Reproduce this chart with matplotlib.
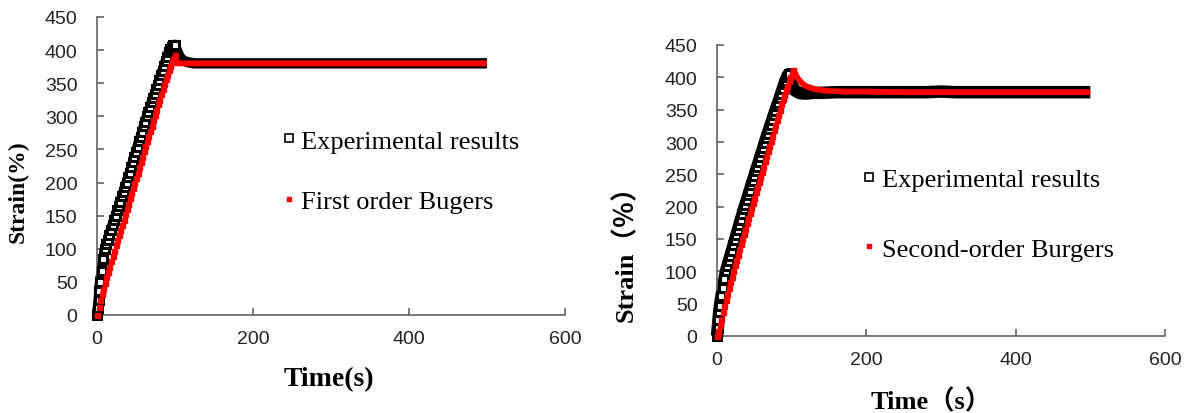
import numpy as np
import matplotlib
matplotlib.use("Agg")
import matplotlib.pyplot as plt
from matplotlib.lines import Line2D

# ---- left panel: first order Burgers ----
t_exp_l = [0, 1, 2, 3, 4, 6, 8, 10, 12, 14, 16, 18, 20, 22, 24, 26, 28, 30, 32, 34,
           36, 38, 40, 42, 44, 46, 48, 50, 52, 54, 56, 58, 60, 62, 64, 66, 68, 70,
           72, 74, 76, 78, 80, 82, 84, 86, 88, 90, 92, 94, 96, 98, 100,
           102, 104, 106, 108, 110, 113, 116, 120, 125, 130,
           140, 160, 180, 200, 220, 240, 260, 280, 300, 320, 340, 360, 380, 400,
           420, 440, 460, 480, 500]
y_exp_l = [0, 10, 22, 36, 50, 67, 84, 100, 107, 114, 121, 129, 136, 143, 150, 158, 164,
           171, 179, 186, 194, 200, 208, 215, 223, 231, 238, 246, 254, 262, 269, 277,
           285, 292, 300, 307, 314, 321, 328, 334, 341, 348, 355, 362, 369, 376, 383,
           390, 397, 402, 405, 407, 408,
           401, 395, 390, 387, 385, 383, 382, 381, 380, 380,
           380, 380, 380, 380, 380, 380, 380, 380, 380, 380, 380, 380, 380, 380,
           380, 380, 380, 380, 380]

t_mod_l = [0, 2, 4, 6, 8, 10, 12, 14, 16, 18, 20, 22, 24, 26, 28, 30, 32, 34, 36, 38,
           40, 42, 44, 46, 48, 50, 52, 54, 56, 58, 60, 62, 64, 66, 68, 70, 72, 74, 76,
           78, 80, 82, 84, 86, 88, 90, 92, 94, 96, 98, 100,
           102, 120, 140, 160, 180, 200, 250, 300, 350, 400, 450, 500]
y_mod_l = [0, 12, 22, 31, 40, 49, 57, 65, 73, 81, 89, 97, 105, 113, 121, 128, 136, 144,
           152, 160, 168, 176, 184, 192, 200, 207, 215, 223, 231, 239, 247, 255, 263,
           271, 278, 286, 294, 302, 310, 318, 325, 333, 341, 349, 356, 363, 370, 376,
           382, 387, 392,
           380, 380, 380, 380, 380, 380, 380, 380, 380, 380, 380, 380]

# ---- right panel: second-order Burgers ----
t_exp_r = [0, 1, 2, 3, 4, 6, 8, 10, 12, 14, 16, 18, 20, 22, 24, 26, 28, 30, 32, 34,
           36, 38, 40, 42, 44, 46, 48, 50, 52, 54, 56, 58, 60, 62, 64, 66, 68, 70,
           72, 74, 76, 78, 80, 82, 84, 86, 88, 90, 92, 94, 96,
           98, 100, 102, 104, 107, 110, 115, 120, 130, 140,
           160, 180, 200, 220, 240, 260, 280, 300, 320, 340, 360, 380, 400, 420,
           440, 460, 480, 500]
y_exp_r = [0, 12, 25, 37, 47, 62, 75, 88, 100, 108, 116, 124, 132, 140, 148, 156, 164,
           172, 180, 188, 196, 203, 210, 218, 225, 233, 240, 247, 255, 262, 269, 277,
           284, 291, 299, 306, 313, 320, 327, 334, 341, 348, 355, 361, 368, 375, 382,
           389, 395, 401, 405,
           399, 390, 384, 380, 378, 376, 375, 375, 376, 376,
           377, 377, 377, 377, 377, 377, 377, 378, 377, 377, 377, 377, 377, 377,
           377, 377, 377, 377]

t_mod_r = [0, 2, 4, 6, 8, 10, 12, 14, 16, 18, 20, 22, 24, 26, 28, 30, 32, 34, 36, 38,
           40, 42, 44, 46, 48, 50, 52, 54, 56, 58, 60, 62, 64, 66, 68, 70, 72, 74, 76,
           78, 80, 82, 84, 86, 88, 90, 92, 94, 96, 98, 100, 102,
           104, 106, 108, 110, 113, 116, 120, 125, 130, 140, 150, 170, 200,
           250, 300, 350, 400, 450, 500]
y_mod_r = [0, 8, 17, 27, 37, 47, 56, 65, 74, 83, 92, 101, 110, 118, 126, 134, 142, 150,
           158, 166, 174, 182, 190, 198, 206, 214, 222, 230, 238, 246, 254, 262, 270,
           278, 286, 294, 302, 310, 318, 326, 334, 342, 350, 358, 366, 373, 380, 387,
           394, 401, 407, 412,
           408, 403, 399, 396, 392, 389, 386, 384, 382, 380, 379, 378, 378,
           377, 377, 377, 377, 377, 377]

serif = ['Liberation Serif', 'Noto Sans CJK SC', 'DejaVu Serif']
tick_font = 'Liberation Sans'

fig = plt.figure(figsize=(11.89, 4.14), dpi=100)
ax1 = fig.add_axes([97 / 1189, 98 / 414, 468 / 1189, 298 / 414])
ax2 = fig.add_axes([717 / 1189, 77 / 414, 448 / 1189, 291 / 414])


def draw_panel(ax, t_exp, y_exp, t_mod, y_mod, exp_lw):
    pk_e = int(np.argmax(y_exp))
    pk_m = int(np.argmax(y_mod))
    # experimental: thick band + open squares on the loading ramp
    ax.plot(t_exp, y_exp, color='black', lw=exp_lw, solid_capstyle='butt',
            solid_joinstyle='round', clip_on=False, zorder=2)
    ax.plot(t_exp[:pk_e + 1], y_exp[:pk_e + 1], ls='none', marker='s', ms=6,
            mfc='white', mec='black', mew=2.2, clip_on=False, zorder=3)
    # model: red dashes on the ramp, red line after the peak
    ax.plot(t_mod[:pk_m + 1], y_mod[:pk_m + 1], ls='none', marker='s', ms=3.6,
            color='red', mec='red', clip_on=False, zorder=4)
    ax.plot(t_mod[pk_m:], y_mod[pk_m:], color='red', lw=4.2, solid_capstyle='butt',
            clip_on=False, zorder=4)

    ax.set_xlim(0, 600)
    ax.set_ylim(0, 450)
    ax.set_xticks([0, 200, 400, 600])
    ax.set_yticks(np.arange(0, 451, 50))
    for s in ['top', 'right']:
        ax.spines[s].set_visible(False)
    for s in ['left', 'bottom']:
        ax.spines[s].set_color('#555555')
        ax.spines[s].set_linewidth(1.1)
    ax.tick_params(axis='both', direction='in', length=5, width=1.1, color='#555555',
                   labelcolor='#222222', labelsize=14)
    ax.tick_params(axis='y', pad=14)
    ax.tick_params(axis='x', pad=11)
    for lab in ax.get_xticklabels() + ax.get_yticklabels():
        lab.set_fontfamily(tick_font)


draw_panel(ax1, t_exp_l, y_exp_l, t_mod_l, y_mod_l, 7.5)
draw_panel(ax2, t_exp_r, y_exp_r, t_mod_r, y_mod_r, 9.0)

h_exp = Line2D([], [], ls='none', marker='s', ms=6, mfc='white', mec='black', mew=1.2)
h_mod = Line2D([], [], ls='none', marker='s', ms=3, color='red')

ax1.legend([h_exp, h_mod], ['Experimental results', 'First order Bugers'],
           loc='center left', bbox_to_anchor=(0.37, 0.483), frameon=False,
           borderpad=0, handlelength=0.4, handletextpad=0.25, labelspacing=1.4,
           prop={'family': serif, 'size': 19})
ax2.legend([h_exp, h_mod], ['Experimental results', 'Second-order Burgers'],
           loc='center left', bbox_to_anchor=(0.298, 0.419), frameon=False,
           borderpad=0, handlelength=0.4, handletextpad=0.3, labelspacing=1.75,
           prop={'family': serif, 'size': 19})

ax1.text(-0.169, 0.416, 'Strain(%)', transform=ax1.transAxes, rotation=90,
         ha='center', va='center', family=serif, weight='bold', fontsize=17)
ax1.text(0.496, -0.215, 'Time(s)', transform=ax1.transAxes,
         ha='center', va='center', family=serif, weight='bold', fontsize=20)
ax2.text(-0.205, 0.31, 'Strain（％）', transform=ax2.transAxes, rotation=90,
         ha='center', va='center', family=serif, weight='bold', fontsize=19)
ax2.text(0.478, -0.223, 'Time（s）', transform=ax2.transAxes,
         ha='center', va='center', family=serif, weight='bold', fontsize=19)

fig.savefig('out.png', dpi=100)
